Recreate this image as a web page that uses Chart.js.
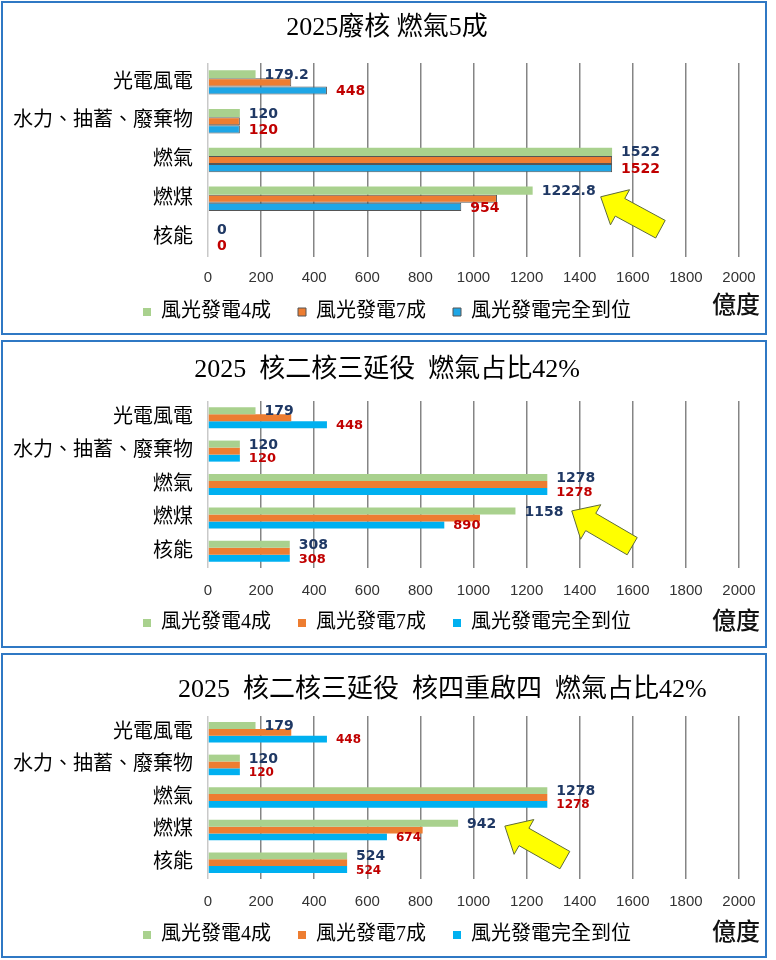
<!DOCTYPE html>
<html lang="zh-Hant">
<head>
<meta charset="utf-8">
<title>2025 發電結構情境</title>
<script src="https://cdn.jsdelivr.net/npm/chart.js@4.4.1/dist/chart.umd.min.js"></script>
<style>
    html, body { margin: 0; padding: 0; background: #fff; }
    body { width: 776px; height: 960px; position: relative; overflow: hidden; }
    .panel { position: absolute; left: 1px; width: 762px; border: 2px solid #2F78C4; background: #fff; }
    .panel canvas { display: block; }
    .unit { position: absolute; right: 5px; font: 500 24px "Noto Sans CJK TC", sans-serif; line-height: 24px; color: #111; }
</style>
</head>
<body>
<div class="panel" style="top:1px;height:330px">
    <canvas id="chart1" width="762" height="330"></canvas>
    <div class="unit" style="top:288px">億度</div>
</div>
<div class="panel" style="top:340px;height:304px">
    <canvas id="chart2" width="762" height="304"></canvas>
    <div class="unit" style="top:265px">億度</div>
</div>
<div class="panel" style="top:653px;height:301px">
    <canvas id="chart3" width="762" height="301"></canvas>
    <div class="unit" style="top:263px">億度</div>
</div>

<script>
// 資料
const categories = ['光電風電', '水力、抽蓄、廢棄物', '燃氣', '燃煤', '核能'];
const seriesNames = ['風光發電4成', '風光發電7成', '風光發電完全到位'];
const axisMin = 0;
const axisMax = 2000;
const axisStep = 200;

const titles = [
    '2025廢核 燃氣5成',
    '2025  核二核三延役  燃氣占比42%',
    '\u3000\u3000\u3000\u3000 2025  核二核三延役  核四重啟四  燃氣占比42%'
];

// 2025廢核 燃氣5成
const noNuclearWind40 = [179.2, 120, 1522, 1222.8, 0];
const noNuclearWind70 = [313.6, 120, 1522, 1088.4, 0];
const noNuclearWindFull = [448, 120, 1522, 954, 0];

// 2025 核二核三延役
const extendWind40 = [179, 120, 1278, 1158, 308];
const extendWind70 = [313.6, 120, 1278, 1024.4, 308];
const extendWindFull = [448, 120, 1278, 890, 308];

// 2025 核二核三延役 核四重啟
const restartWind40 = [179, 120, 1278, 942, 524];
const restartWind70 = [313.6, 120, 1278, 808.4, 524];
const restartWindFull = [448, 120, 1278, 674, 524];

const SERIF = '"Liberation Serif", "Noto Sans CJK TC", serif';
const NAVY = '#1F3864';
const RED = '#C00000';

// 數值標籤（綠色 = 深藍字，藍色 = 紅字）
const valueLabels = {
    id: 'valueLabels',
    afterDatasetsDraw(chart, args, opts) {
        const ctx = chart.ctx;
        ctx.save();
        ctx.textAlign = 'left';
        ctx.textBaseline = 'middle';
        opts.items.forEach(item => {
            const meta = chart.getDatasetMeta(item.dataset);
            const values = chart.data.datasets[item.dataset].data;
            ctx.font = 'bold ' + item.size + 'px "DejaVu Sans", sans-serif';
            ctx.fillStyle = item.color;
            meta.data.forEach((bar, i) => {
                ctx.fillText(String(values[i]), bar.x + opts.offset, bar.y + 1);
            });
        });
        ctx.restore();
    }
};

// 黃色箭頭，指向燃煤的標籤
const arrowMark = {
    id: 'arrowMark',
    afterDraw(chart, args, o) {
        if (!o || o.value === undefined) return;
        const x0 = chart.scales.x.getPixelForValue(o.value);
        const y0 = chart.scales.y.getPixelForValue(o.category) + o.dy;
        const ang = Math.atan2(o.dirY, o.dirX);
        const ux = Math.cos(ang), uy = Math.sin(ang);
        const vx = -uy, vy = ux;
        const L = o.length, H = 22, W = 20, S = 10;
        const pts = [[0, 0], [H, -W], [H, -S], [L, -S], [L, S], [H, S], [H, W]];
        const ctx = chart.ctx;
        ctx.save();
        ctx.beginPath();
        pts.forEach((p, i) => {
            const px = x0 + ux * p[0] + vx * p[1];
            const py = y0 + uy * p[0] + vy * p[1];
            if (i === 0) ctx.moveTo(px, py); else ctx.lineTo(px, py);
        });
        ctx.closePath();
        ctx.fillStyle = '#FFFF00';
        ctx.fill();
        ctx.lineWidth = 1;
        ctx.strokeStyle = '#5E6A3A';
        ctx.stroke();
        ctx.restore();
    }
};

function makeChart(id, cfg) {
    const bars = [cfg.s1, cfg.s2, cfg.s3];
    const fills = ['#A9D18E', '#ED7D31', cfg.blue];
    return new Chart(document.getElementById(id), {
        type: 'bar',
        data: {
            labels: categories,
            datasets: bars.map((d, i) => ({
                label: seriesNames[i],
                data: d,
                backgroundColor: fills[i],
                borderColor: i === 0 ? fills[i] : cfg.edge,
                borderWidth: i === 0 ? 0 : cfg.edgeWidth,
                categoryPercentage: 0.63,
                barPercentage: 1.0
            }))
        },
        options: {
            indexAxis: 'y',
            responsive: false,
            animation: false,
            devicePixelRatio: 1,
            layout: { padding: { left: 6, right: 0, top: 0, bottom: cfg.padBottom } },
            scales: {
                x: {
                    min: axisMin,
                    max: axisMax,
                    ticks: {
                        stepSize: axisStep,
                        padding: cfg.tickPad,
                        color: '#333',
                        font: { family: '"Liberation Sans", Arial, sans-serif', size: 15 },
                        callback: v => String(v)
                    },
                    grid: {
                        drawTicks: false,
                        lineWidth: 1.5,
                        color: c => c.index === 0 ? '#c9c9c9' : '#858585'
                    },
                    border: { display: false },
                    afterFit: s => {
                        // 軸本身壓扁，讓圖例貼近刻度；刻度文字不裁切
                        s.height = cfg.xHeight;
                        s.paddingLeft = 0;
                        s.paddingRight = 26;
                        s._computeLabelArea = () => null;
                    }
                },
                y: {
                    ticks: {
                        padding: 15,
                        color: '#000',
                        font: { family: SERIF, size: 20 }
                    },
                    grid: { display: false, drawTicks: false },
                    border: { display: false },
                    afterFit: s => { s.width = 199; s.paddingTop = 0; s.paddingBottom = 0; }
                }
            },
            plugins: {
                title: {
                    display: true,
                    text: cfg.title,
                    color: '#000',
                    font: { family: SERIF, size: 26, weight: 'normal' },
                    padding: { top: cfg.titleTop, bottom: cfg.titleBottom }
                },
                legend: {
                    position: 'bottom',
                    labels: {
                        boxWidth: 8,
                        boxHeight: 8,
                        padding: 27,
                        color: '#000',
                        font: { family: SERIF, size: 20 }
                    }
                },
                tooltip: { enabled: false },
                valueLabels: {
                    offset: 9,
                    items: [
                        { dataset: 0, color: NAVY, size: 14 },
                        { dataset: 2, color: RED, size: cfg.redSize }
                    ]
                },
                arrowMark: cfg.arrow
            }
        },
        plugins: [valueLabels, arrowMark]
    });
}

makeChart('chart1', {
    title: titles[0],
    s1: noNuclearWind40, s2: noNuclearWind70, s3: noNuclearWindFull,
    blue: '#1EA6E6', edge: '#555555', edgeWidth: 1,
    titleTop: 9.4, titleBottom: 19.4, tickPad: 12, xHeight: 18, padBottom: 1,
    redSize: 14,
    arrow: { value: 1479, category: 3, dy: -2, dirX: 59, dirY: 32, length: 68 }
});

makeChart('chart2', {
    title: titles[1],
    s1: extendWind40, s2: extendWind70, s3: extendWindFull,
    blue: '#00B0F0', edge: '#00B0F0', edgeWidth: 0,
    titleTop: 12.4, titleBottom: 15.4, tickPad: 14, xHeight: 18, padBottom: 3,
    redSize: 13,
    arrow: { value: 1370, category: 3, dy: -7, dirX: 60, dirY: 35, length: 70 }
});

makeChart('chart3', {
    title: titles[2],
    s1: restartWind40, s2: restartWind70, s3: restartWindFull,
    blue: '#00B0F0', edge: '#00B0F0', edgeWidth: 0,
    titleTop: 19.4, titleBottom: 10.4, tickPad: 14, xHeight: 19, padBottom: 1,
    redSize: 12,
    arrow: { value: 1118, category: 3, dy: -4, dirX: 60, dirY: 34, length: 69 }
});
</script>
</body>
</html>
